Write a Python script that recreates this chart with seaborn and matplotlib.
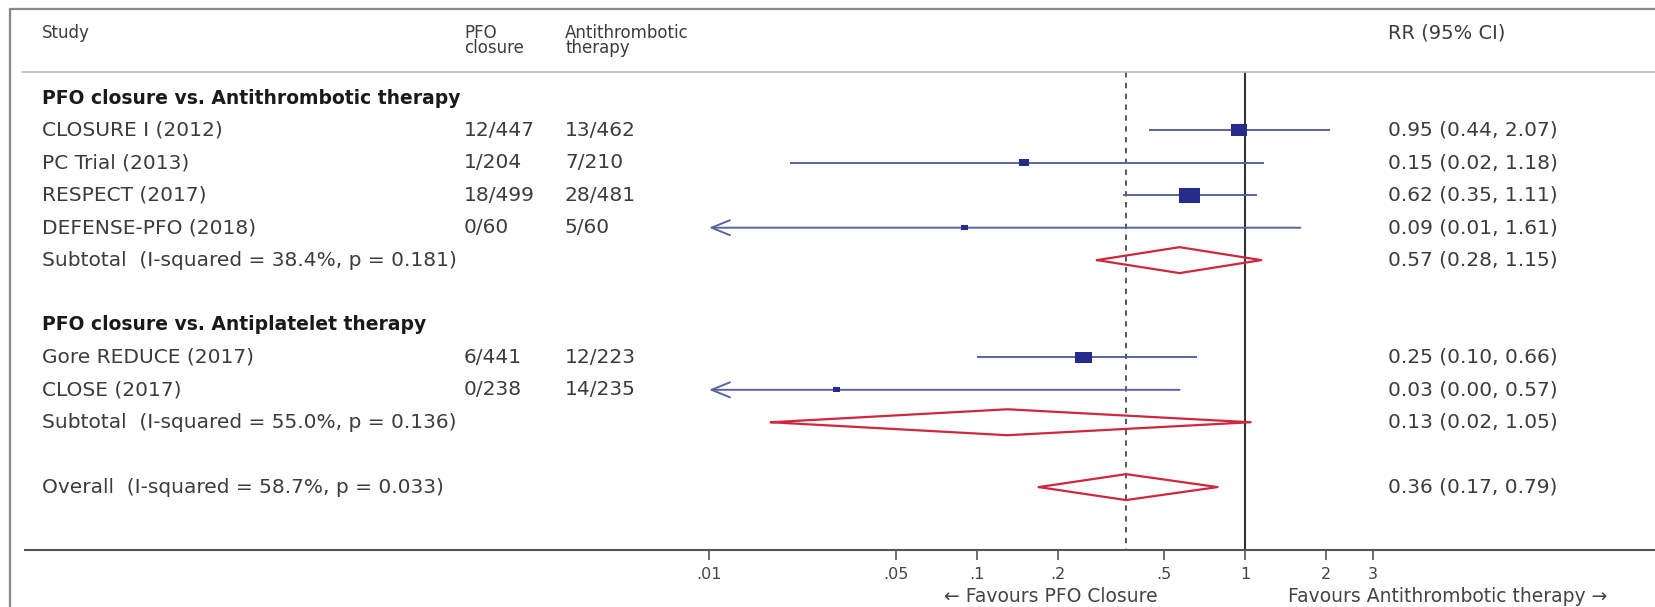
import numpy as np
import pandas as pd
import seaborn as sns
import matplotlib.pyplot as plt
from matplotlib.path import Path
from matplotlib.lines import Line2D
from matplotlib.ticker import NullLocator
from matplotlib import transforms

# ---- data ----
studies = ["CLOSURE I (2012)", "PC Trial (2013)", "RESPECT (2017)", "DEFENSE-PFO (2018)",
           "Gore REDUCE (2017)", "CLOSE (2017)"]
ev_closure = ["12/447", "1/204", "18/499", "0/60", "6/441", "0/238"]
ev_control = ["13/462", "7/210", "28/481", "5/60", "12/223", "14/235"]
rr = [0.95, 0.15, 0.62, 0.09, 0.25, 0.03]
rr_lo = [0.44, 0.02, 0.35, 0.006, 0.10, 0.002]
rr_hi = [2.07, 1.18, 1.11, 1.61, 0.66, 0.57]
weight = [18.7, 6.0, 28.0, 2.5, 17.4, 2.5]

group_titles = ["PFO closure vs. Antithrombotic therapy",
                "PFO closure vs. Antiplatelet therapy"]
pooled_labels = ["Subtotal  (I-squared = 38.4%, p = 0.181)",
                 "Subtotal  (I-squared = 55.0%, p = 0.136)",
                 "Overall  (I-squared = 58.7%, p = 0.033)"]
pooled_rr = [0.57, 0.13, 0.36]
pooled_lo = [0.28, 0.017, 0.17]
pooled_hi = [1.15, 1.05, 0.79]

xticks = [.01, .05, .1, .2, .5, 1, 2, 3]
xtick_labels = [".01", ".05", ".1", ".2", ".5", "1", "2", "3"]

# row layout
study_rows = [2, 3, 4, 5, 9, 10]
title_rows = [1, 8]
pooled_rows = [6, 11, 13]

sns.set_theme(style="white")
plt.rcParams['font.family'] = ['DejaVu Sans']

W, H = 1655, 607
fig = plt.figure(figsize=(W / 100, H / 100), dpi=100)
ax = fig.add_axes([25 / W, (H - 550) / H, (W - 25) / W, 541 / H])
ax.set_xscale('log')

txt = '#3c3c3c'
navy = '#262c8c'
ci_col = '#5b64a0'
red = '#d0263e'
xmin_plot = 0.01

# CI lines (arrow when truncated at the left edge)
for r, lo, hi, row in zip(rr, rr_lo, rr_hi, study_rows):
    if lo < xmin_plot:
        ax.annotate('', xy=(xmin_plot, row), xytext=(hi, row),
                    arrowprops=dict(arrowstyle='->,head_length=1.1,head_width=0.45',
                                    color=ci_col, lw=1.4, shrinkA=0, shrinkB=0),
                    zorder=2)
    else:
        ax.hlines(row, lo, hi, color=ci_col, lw=1.4, zorder=2)

# weighted boxes
df = pd.DataFrame({'rr': rr, 'row': study_rows, 'weight': weight})
rect = Path([(-0.7, -0.5), (0.7, -0.5), (0.7, 0.5), (-0.7, 0.5), (-0.7, -0.5)],
            [Path.MOVETO, Path.LINETO, Path.LINETO, Path.LINETO, Path.CLOSEPOLY])
sns.scatterplot(data=df, x='rr', y='row', size='weight', sizes=(24, 220), size_norm=(2.5, 28),
                marker=rect, color=navy, edgecolor='none', linewidth=0, legend=False,
                ax=ax, zorder=3)

# pooled diamonds
for r, lo, hi, row in zip(pooled_rr, pooled_lo, pooled_hi, pooled_rows):
    ax.plot([lo, r, hi, r, lo], [row, row - 0.4, row, row + 0.4, row],
            color=red, lw=1.6, zorder=4)

y_top, y_bot = 0.198, 14.94
ax.vlines(1, y_top, y_bot, color='#333333', lw=1.5, zorder=1)
ax.vlines(pooled_rr[-1], y_top, y_bot, color='#4a4a4a', lw=1.3,
          linestyles=(0, (3, 3)), zorder=1)

ax.set_xlim(10 ** (-2 - (709 - 25) / 268), 10 ** ((1655 - 1245) / 268))
ax.set_ylim(y_bot, -1.745)
ax.set_xlabel('')
ax.set_ylabel('')
ax.set_yticks([])
ax.set_xticks(xticks)
ax.set_xticklabels(xtick_labels)
ax.xaxis.set_minor_locator(NullLocator())
ax.tick_params(axis='x', which='major', direction='out', length=7, width=1.2,
               color='#555555', labelsize=11.5, labelcolor='#444444', pad=5, bottom=True)
for s in ['top', 'left', 'right']:
    ax.spines[s].set_visible(False)
ax.spines['bottom'].set_color('#555555')
ax.spines['bottom'].set_linewidth(1.5)

# text columns
tx = transforms.blended_transform_factory(fig.transFigure, ax.transData)


def put(xpx, row, s, size=14.5, **kw):
    ax.text(xpx / W, row, s, transform=tx, va='center', ha='left', fontsize=size,
            color=kw.pop('color', txt), clip_on=False, **kw)


put(42, -1, "Study", size=12)
put(464, -1, "PFO", size=12)
put(464, -1 + 15 / 32.42, "closure", size=12)
put(565, -1, "Antithrombotic", size=12)
put(565, -1 + 15 / 32.42, "therapy", size=12)
put(1388, -1, "RR (95% CI)", size=14)

for title, row in zip(group_titles, title_rows):
    put(42, row, title, size=13.5, color='#1a1a1a', fontweight='bold')
for name, a, b, r, lo, hi, row in zip(studies, ev_closure, ev_control, rr, rr_lo, rr_hi, study_rows):
    put(42, row, name)
    put(464, row, a)
    put(565, row, b)
    put(1388, row, f"{r:.2f} ({lo:.2f}, {hi:.2f})")
for lab, r, lo, hi, row in zip(pooled_labels, pooled_rr, pooled_lo, pooled_hi, pooled_rows):
    put(42, row, lab)
    put(1388, row, f"{r:.2f} ({lo:.2f}, {hi:.2f})")

fav = transforms.blended_transform_factory(ax.transData, ax.transAxes)
ax.text(10 ** ((1158 - 1245) / 268), -47 / 541, "\u2190 Favours PFO Closure", transform=fav,
        ha='right', va='center', fontsize=13.5, color='#444444')
ax.text(10 ** ((1288 - 1245) / 268), -47 / 541, "Favours Antithrombotic therapy \u2192",
        transform=fav, ha='left', va='center', fontsize=13.5, color='#444444')

# frame and header rule
fig.add_artist(Line2D([10 / W, 10 / W], [0, (H - 9) / H], transform=fig.transFigure,
                      color='#888888', lw=1.6))
fig.add_artist(Line2D([10 / W, 1], [(H - 9) / H, (H - 9) / H], transform=fig.transFigure,
                      color='#888888', lw=1.6))
fig.add_artist(Line2D([22 / W, 1], [(H - 72) / H, (H - 72) / H], transform=fig.transFigure,
                      color='#bbbbbb', lw=1.2))

fig.savefig('out.png', dpi=100)
